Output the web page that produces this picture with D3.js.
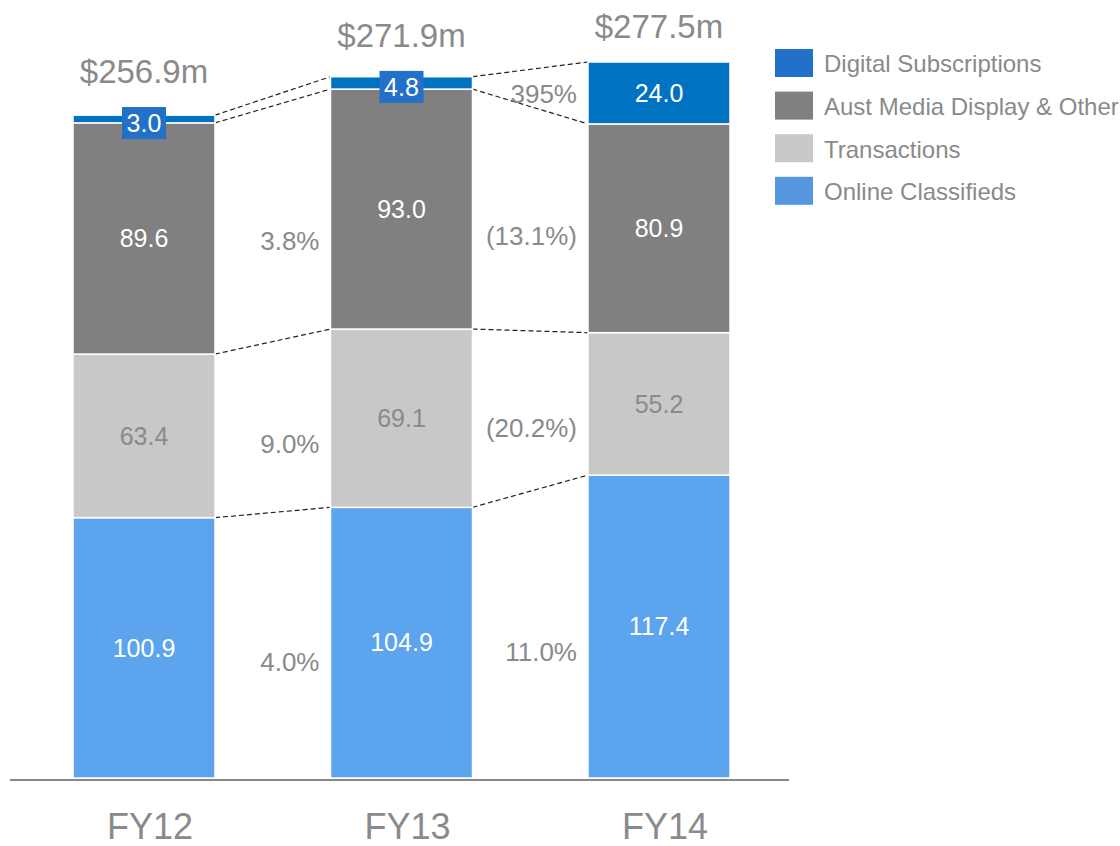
<!DOCTYPE html>
<html>
<head>
<meta charset="utf-8">
<script src="https://cdn.jsdelivr.net/npm/d3@7"></script>
<style>
  body { margin: 0; background: #fff; }
  svg text { font-family: "Liberation Sans", Arial, sans-serif; }
</style>
</head>
<body>
<svg width="1120" height="846"></svg>
<script>
// data
const years = ['FY12', 'FY13', 'FY14'];
const totals = ['$256.9m', '$271.9m', '$277.5m'];
const seriesNames = ['Online Classifieds', 'Transactions', 'Aust Media Display & Other', 'Digital Subscriptions'];
const onlineClassifieds = [100.9, 104.9, 117.4];
const transactions = [63.4, 69.1, 55.2];
const austMedia = [89.6, 93.0, 80.9];
const digitalSubs = [3.0, 4.8, 24.0];
// growth labels per gap (FY12->FY13, FY13->FY14), in series order
const growthFY13 = ['4.0%', '9.0%', '3.8%', ''];
const growthFY14 = ['11.0%', '(20.2%)', '(13.1%)', '395%'];

const svg = d3.select('svg');
const grey = '#8a8a8a';
const barColor = ['#5ca4ee', '#c8c8c8', '#808080', '#0072c2'];
const legendColor = ['#5596df', '#c8c8c8', '#808080', '#2270c8'];
const labelColor = ['#fff', grey, '#fff', '#fff'];

const values = [onlineClassifieds, transactions, austMedia, digitalSubs];
const rows = years.map((y, i) => {
  const r = { year: y };
  seriesNames.forEach((s, k) => r[s] = values[k][i]);
  return r;
});
const stacked = d3.stack().keys(seriesNames)(rows);

const x = d3.scaleBand().domain(years).range([73, 730]).paddingInner(0.4485).paddingOuter(0);
const y = d3.scaleLinear().domain([0, 277.5]).range([778, 62]);

// connectors
const gaps = [growthFY13, growthFY14];
for (let g = 0; g < 2; g++) {
  const a = years[g], b = years[g + 1];
  stacked.forEach(layer => {
    svg.append('line')
      .attr('x1', x(a) + x.bandwidth()).attr('y1', y(layer[g][1]))
      .attr('x2', x(b)).attr('y2', y(layer[g + 1][1]))
      .attr('stroke', '#222').attr('stroke-width', 1.2)
      .attr('stroke-dasharray', '5,3');
  });
}

// bars
const layers = svg.selectAll('.layer')
  .data(stacked)
  .enter().append('g')
  .attr('fill', (d, i) => barColor[i]);

layers.selectAll('rect')
  .data(d => d)
  .enter().append('rect')
  .attr('x', d => x(d.data.year))
  .attr('width', x.bandwidth())
  .attr('y', d => y(d[1]))
  .attr('height', d => y(d[0]) - y(d[1]))
  .attr('stroke', '#fff')
  .attr('stroke-width', 1.5);

// segment labels
stacked.forEach((layer, k) => {
  layer.forEach((d, i) => {
    const cx = x(d.data.year) + x.bandwidth() / 2;
    let cy = (y(d[0]) + y(d[1])) / 2;
    const small = (y(d[0]) - y(d[1])) < 25;
    if (small) {
      cy += 4;
      svg.append('rect')
        .attr('x', cx - 22).attr('y', cy - 16)
        .attr('width', 44).attr('height', 32)
        .attr('fill', '#2270c8');
    }
    svg.append('text')
      .attr('x', cx).attr('y', cy).attr('dy', '0.35em')
      .attr('text-anchor', 'middle')
      .attr('font-size', 25)
      .attr('fill', labelColor[k])
      .text(d.data[seriesNames[k]].toFixed(1));
  });
});

// totals
years.forEach((yr, i) => {
  const top = y(stacked[3][i][1]);
  const small = (y(stacked[3][i][0]) - top) < 25;
  const boxTop = small ? (y(stacked[3][i][0]) + top) / 2 + 4 - 16 : top;
  svg.append('text')
    .attr('x', x(yr) + x.bandwidth() / 2)
    .attr('y', Math.min(top, boxTop) - 24)
    .attr('text-anchor', 'middle')
    .attr('font-size', 33)
    .attr('fill', grey)
    .text(totals[i]);
});

// growth labels
gaps.forEach((labels, g) => {
  const nx = x(years[g + 1]) - 11;
  labels.forEach((t, k) => {
    if (!t) return;
    const h1 = y(stacked[k][g][0]) - y(stacked[k][g][1]);
    const h2 = y(stacked[k][g + 1][0]) - y(stacked[k][g + 1][1]);
    const c1 = y(stacked[k][g][1]) + h1 / 2;
    const c2 = y(stacked[k][g + 1][1]) + h2 / 2;
    const off = Math.min(17, (h1 + h2) / 2 * 0.15);
    svg.append('text')
      .attr('x', nx).attr('y', (c1 + c2) / 2 + off).attr('dy', '0.35em')
      .attr('text-anchor', 'end')
      .attr('font-size', 26)
      .attr('fill', grey)
      .text(t);
  });
});

// axis
const axis = svg.append('g').attr('transform', 'translate(0,780)')
  .call(d3.axisBottom(x).tickSize(0).tickPadding(33));
axis.select('.domain').remove();
axis.append('line').attr('x1', 10).attr('x2', 789)
  .attr('stroke', '#888').attr('stroke-width', 2);
axis.selectAll('.tick text')
  .attr('dx', 6)
  .attr('font-size', 36)
  .attr('fill', grey)
  .attr('font-family', '"Liberation Sans", Arial, sans-serif');

// legend
const legendOrder = [3, 2, 1, 0];
const legend = svg.selectAll('.legend')
  .data(legendOrder)
  .enter().append('g')
  .attr('transform', (d, i) => `translate(775,${49 + i * 42.6})`);
legend.append('rect')
  .attr('width', 38).attr('height', 28)
  .attr('fill', d => legendColor[d]);
legend.append('text')
  .attr('x', 49).attr('y', 15).attr('dy', '0.35em')
  .attr('font-size', 24)
  .attr('fill', grey)
  .text(d => seriesNames[d]);
</script>
</body>
</html>
